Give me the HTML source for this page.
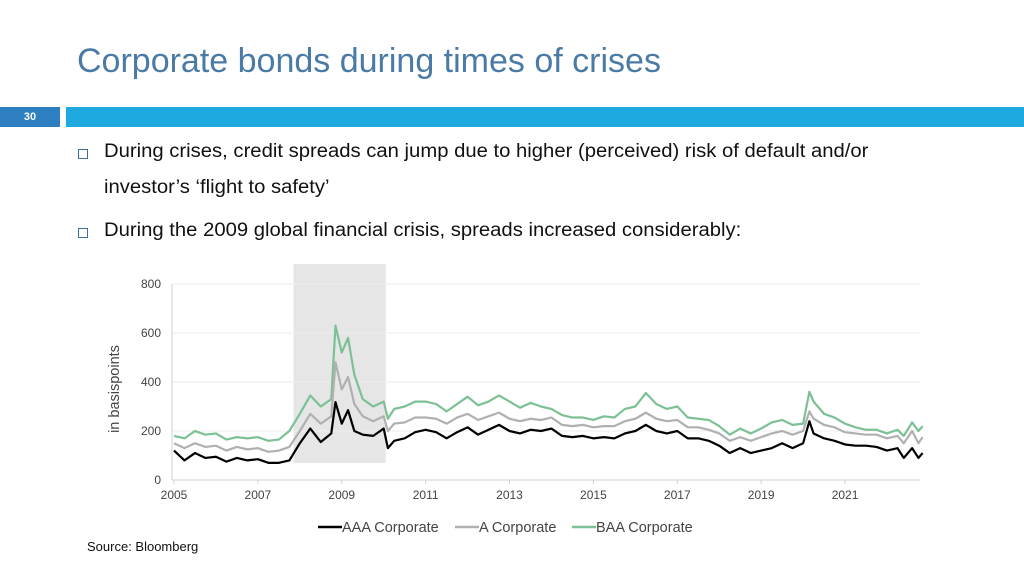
<!DOCTYPE html>
<html><head><meta charset="utf-8"><style>
body{margin:0;width:1024px;height:576px;background:#fff;font-family:"Liberation Sans",sans-serif;position:relative;overflow:hidden}
.abs{position:absolute}
.title{left:77px;top:42px;font-size:34px;color:#4a7ba6;white-space:nowrap}
.bul{left:104px;font-size:19px;color:#111;white-space:nowrap;transform-origin:0 0;transform:scaleX(1.066)}
.box{left:78px;width:8px;height:8px;border:1px solid #3b6fa0}
</style></head><body>
<div class="abs title">Corporate bonds during times of crises</div>
<div class="abs" style="left:0;top:107px;width:60px;height:20px;background:#2d7fc1;color:#fff;font-size:11px;font-weight:bold;text-align:center;line-height:20px">30</div>
<div class="abs" style="left:66px;top:107px;width:958px;height:20px;background:#1ea9e1"></div>
<div class="abs box" style="top:149px"></div>
<div class="abs bul" style="top:141px">During crises, credit spreads can jump due to higher (perceived) risk of default and/or</div>
<div class="abs bul" style="top:177px">investor’s ‘flight to safety’</div>
<div class="abs box" style="top:228px"></div>
<div class="abs bul" style="top:220px">During the 2009 global financial crisis, spreads increased considerably:</div>
<svg class="abs" style="left:0;top:0" width="1024" height="576" id="chart"></svg>
<div class="abs" style="left:87px;top:539px;font-size:13px;color:#111">Source: Bloomberg</div>
<script>
const times=[2005.0,2005.25,2005.5,2005.75,2006.0,2006.25,2006.5,2006.75,2007.0,2007.25,2007.5,2007.75,2008.0,2008.25,2008.5,2008.75,2008.85,2009.0,2009.15,2009.3,2009.5,2009.75,2010.0,2010.1,2010.25,2010.5,2010.75,2011.0,2011.25,2011.5,2011.75,2012.0,2012.25,2012.5,2012.75,2013.0,2013.25,2013.5,2013.75,2014.0,2014.25,2014.5,2014.75,2015.0,2015.25,2015.5,2015.75,2016.0,2016.25,2016.5,2016.75,2017.0,2017.25,2017.5,2017.75,2018.0,2018.25,2018.5,2018.75,2019.0,2019.25,2019.5,2019.75,2020.0,2020.15,2020.25,2020.5,2020.75,2021.0,2021.25,2021.5,2021.75,2022.0,2022.25,2022.4,2022.6,2022.75,2022.85];
const aaa=[120,80,110,90,95,75,90,80,85,70,70,80,150,210,155,190,318,230,285,200,185,180,210,130,160,170,195,205,195,170,195,215,185,205,225,200,190,205,200,210,180,175,180,170,175,170,190,200,225,200,190,200,170,170,160,140,110,130,110,120,130,150,130,150,240,190,170,160,145,140,140,135,120,130,90,130,90,110];
const acorp=[150,130,150,135,140,120,135,125,130,115,120,135,200,270,230,260,480,370,420,310,260,240,260,200,230,235,255,255,250,230,255,270,245,260,275,250,240,250,245,255,225,220,225,215,220,220,240,250,275,250,240,245,215,215,205,190,160,175,160,175,190,200,185,200,280,250,225,215,195,190,185,185,170,180,150,200,150,175];
const baa=[180,170,200,185,190,165,175,170,175,160,165,200,270,345,300,330,630,520,580,430,330,300,320,250,290,300,320,320,310,280,310,340,305,320,345,320,295,315,300,290,265,255,255,245,260,255,290,300,355,310,290,300,255,250,245,220,185,210,190,210,235,245,225,230,360,320,270,255,230,215,205,205,190,205,180,235,200,220];
const yTicks=[0,200,400,600,800];
const xTicks=[2005,2007,2009,2011,2013,2015,2017,2019,2021];
const crisis=[2007.85,2010.05];
const NS='http://www.w3.org/2000/svg';
const svg=document.getElementById('chart');
const X=t=>174+(t-2005)*41.94;
const Y=v=>480-v*0.245;
function mk(tag,attrs){const e=document.createElementNS(NS,tag);for(const k in attrs)e.setAttribute(k,attrs[k]);svg.appendChild(e);return e;}
const sh=mk('rect',{x:X(crisis[0]),y:264,width:X(crisis[1])-X(crisis[0]),height:199,fill:'#e6e6e6'});


yTicks.forEach(v=>{
 const g=mk('line',{x1:172,x2:920,y1:Y(v),y2:Y(v),stroke:v?'#eeeeee':'#d0d0d0','stroke-width':1});
 
 
 const t=mk('text',{x:161,y:Y(v)+4,'text-anchor':'end','font-size':12,fill:'#444'});t.textContent=v;
 
 
});
const ax=mk('line',{x1:172,x2:172,y1:284,y2:480,stroke:'#d0d0d0'});


xTicks.forEach(v=>{
 const l=mk('line',{x1:X(v),x2:X(v),y1:480,y2:484,stroke:'#d0d0d0'});
 
 
 const t=mk('text',{x:X(v),y:499,'text-anchor':'middle','font-size':12,fill:'#444'});t.textContent=v;
 
 
});
const yl=mk('text',{x:0,y:0,transform:'translate(119,389) rotate(-90)','text-anchor':'middle','font-size':14.5,fill:'#444'});yl.textContent='in basispoints';


[[baa,'#7cc095','baa-line'],[acorp,'#b0b0b0','a-line'],[aaa,'#000','aaa-line']].forEach(([d,c,n])=>{
 const p=mk('polyline',{points:d.map((v,i)=>X(times[i])+','+Y(v)).join(' '),fill:'none',stroke:c,'stroke-width':2.2,'stroke-linejoin':'round'});
 
 
});
[['AAA Corporate','#000',318],['A Corporate','#b0b0b0',455],['BAA Corporate','#7cc095',572]].forEach(([lab,c,x])=>{
 const l=mk('line',{x1:x,x2:x+24,y1:527,y2:527,stroke:c,'stroke-width':2.5});
 
 
 const t=mk('text',{x:x+24,y:532,'font-size':14.5,fill:'#444'});t.textContent=lab;
 
 
});
</script>
</body></html>
